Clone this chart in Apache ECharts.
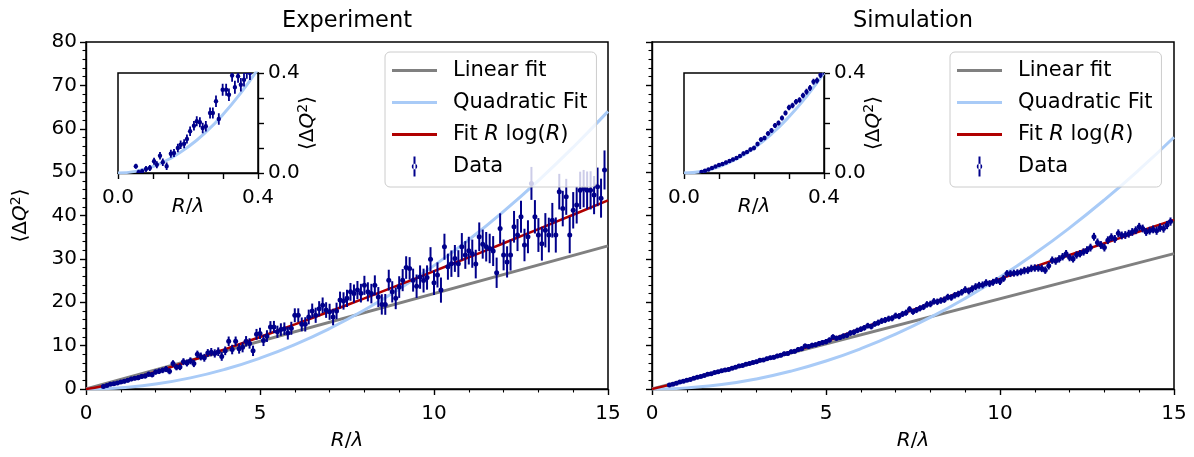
<!DOCTYPE html>
<html>

<head>
  <meta charset="utf-8">
  <title>Experiment / Simulation</title>
  <script src="https://cdn.jsdelivr.net/npm/echarts@6/dist/echarts.min.js"></script>
</head>

<body style="margin:0">
  <div id="chart" style="width:1194px;height:457px;"></div>
  <script>
    // sample positions R/lambda shared by both panels
    const rGrid = [
      0.5, 0.6, 0.7, 0.8, 0.9, 1.0, 1.1, 1.2, 1.3, 1.4,
      1.5, 1.6, 1.7, 1.8, 1.9, 2.0, 2.1, 2.2, 2.3, 2.4,
      2.5, 2.6, 2.7, 2.8, 2.9, 3.0, 3.1, 3.2, 3.3, 3.4,
      3.5, 3.6, 3.7, 3.8, 3.9, 4.0, 4.1, 4.2, 4.3, 4.4,
      4.5, 4.6, 4.7, 4.8, 4.9, 5.0, 5.1, 5.2, 5.3, 5.4,
      5.5, 5.6, 5.7, 5.8, 5.9, 6.0, 6.1, 6.2, 6.3, 6.4,
      6.5, 6.6, 6.7, 6.8, 6.9, 7.0, 7.1, 7.2, 7.3, 7.4,
      7.5, 7.6, 7.7, 7.8, 7.9, 8.0, 8.1, 8.2, 8.3, 8.4,
      8.5, 8.6, 8.7, 8.8, 8.9, 9.0, 9.1, 9.2, 9.3, 9.4,
      9.5, 9.6, 9.7, 9.8, 9.9, 10.0, 10.1, 10.2, 10.3, 10.4,
      10.5, 10.6, 10.7, 10.8, 10.9, 11.0, 11.1, 11.2, 11.3, 11.4,
      11.5, 11.6, 11.7, 11.8, 11.9, 12.0, 12.1, 12.2, 12.3, 12.4,
      12.5, 12.6, 12.7, 12.8, 12.9, 13.0, 13.1, 13.2, 13.3, 13.4,
      13.5, 13.6, 13.7, 13.8, 13.9, 14.0, 14.1, 14.2, 14.3, 14.4,
      14.5, 14.6, 14.7, 14.8, 14.9
    ];

    const expY = [
      0.6, 0.8, 1.1, 1.2, 1.4, 1.6, 1.8, 2.0, 2.3, 2.5,
      2.6, 2.9, 3.0, 3.4, 3.3, 3.9, 4.1, 4.3, 4.6, 4.1,
      5.9, 5.0, 5.1, 6.3, 6.0, 6.5, 5.9, 8.0, 7.5, 7.2,
      8.3, 8.5, 8.2, 8.6, 7.5, 8.8, 11.0, 9.1, 11.0, 9.3,
      9.6, 11.0, 10.5, 8.8, 12.6, 12.8, 11.2, 12.2, 14.3, 14.3,
      13.2, 13.7, 13.9, 12.9, 14.0, 17.0, 17.0, 14.9, 14.9, 16.6,
      18.0, 17.0, 18.5, 19.3, 18.2, 17.8, 16.6, 18.0, 20.5, 20.3,
      20.9, 22.4, 22.0, 22.8, 22.1, 23.9, 22.4, 22.0, 23.9, 21.2,
      19.5, 19.5, 25.1, 22.4, 20.9, 23.5, 25.1, 28.0, 27.8, 25.1,
      23.7, 25.8, 25.0, 25.7, 29.9, 24.5, 26.3, 22.8, 32.8, 28.2,
      28.9, 30.1, 28.9, 32.8, 30.9, 31.9, 31.2, 28.8, 35.1, 33.4,
      32.8, 32.4, 31.8, 26.8, 37.0, 30.9, 29.3, 30.9, 37.4, 35.5,
      39.7, 33.2, 35.1, 47.4, 39.7, 35.5, 33.5, 36.6, 35.5, 38.9,
      35.5, 45.5, 41.6, 44.3, 35.5, 41.2, 42.4, 45.8, 46.2, 45.8,
      45.8, 44.7, 46.6, 44.0, 50.5
    ];

    const expErr = [
      0.4, 0.4, 0.4, 0.45, 0.45, 0.45, 0.5, 0.5, 0.5, 0.5,
      0.55, 0.55, 0.55, 0.6, 0.6, 0.6, 0.65, 0.65, 0.7, 0.7,
      0.75, 0.7, 0.75, 0.8, 0.8, 0.8, 0.85, 0.85, 0.9, 0.9,
      0.9, 0.95, 0.95, 1.0, 1.0, 1.0, 1.1, 1.1, 1.1, 1.15,
      1.15, 1.2, 1.2, 1.2, 1.25, 1.3, 1.3, 1.35, 1.35, 1.4,
      1.4, 1.45, 1.45, 1.5, 1.5, 1.6, 1.6, 1.6, 1.65, 1.7,
      1.7, 1.75, 1.75, 1.8, 1.8, 1.85, 1.9, 1.9, 1.95, 2.0,
      2.0, 2.05, 2.1, 2.1, 2.15, 2.2, 2.2, 2.25, 2.3, 2.3,
      2.35, 2.4, 2.4, 2.45, 2.5, 2.5, 2.55, 2.6, 2.6, 2.65,
      2.7, 2.7, 2.75, 2.8, 2.8, 2.85, 2.9, 2.9, 3.0, 3.0,
      3.05, 3.1, 3.1, 3.15, 3.2, 3.2, 3.25, 3.3, 3.3, 3.35,
      3.4, 3.4, 3.45, 3.5, 3.5, 3.55, 3.6, 3.6, 3.65, 3.7,
      3.7, 3.75, 3.8, 3.8, 3.85, 3.9, 3.9, 3.95, 4.0, 4.0,
      4.05, 4.1, 4.1, 4.15, 4.2, 4.2, 4.25, 4.3, 4.3, 4.35,
      4.4, 4.4, 4.45, 4.5, 4.5
    ];

    const simY = [
      0.9, 1.1, 1.3, 1.6, 1.8, 2.0, 2.2, 2.5, 2.7, 2.9,
      3.1, 3.4, 3.5, 3.8, 4.0, 4.2, 4.4, 4.5, 4.8, 5.0,
      5.3, 5.4, 5.7, 5.9, 6.1, 6.3, 6.6, 6.7, 7.0, 7.2,
      7.3, 7.6, 7.8, 8.1, 8.2, 8.6, 8.7, 9.1, 9.3, 9.9,
      9.8, 10.1, 10.2, 10.5, 10.7, 10.9, 11.3, 12.0, 11.7, 11.9,
      12.2, 12.4, 12.9, 13.1, 13.5, 13.8, 14.1, 14.6, 14.4, 15.0,
      15.3, 15.7, 15.9, 16.2, 16.3, 16.9, 16.8, 17.3, 17.6, 18.4,
      17.8, 18.2, 18.6, 18.9, 19.5, 19.6, 20.2, 20.1, 20.4, 20.6,
      21.2, 21.1, 21.6, 21.9, 22.3, 22.9, 22.6, 23.1, 23.6, 23.9,
      24.0, 24.5, 24.3, 24.6, 25.0, 24.8, 25.5, 26.6, 26.6, 26.7,
      26.8, 27.0, 27.3, 27.4, 27.8, 27.9, 27.9, 27.8, 27.4, 28.4,
      29.7, 29.5, 30.0, 30.5, 31.2, 30.3, 30.0, 30.9, 31.2, 31.6,
      32.0, 32.6, 35.1, 33.8, 33.2, 32.6, 34.3, 35.0, 34.6, 35.9,
      35.4, 35.5, 35.8, 36.2, 36.6, 37.4, 37.0, 36.2, 36.5, 36.8,
      36.5, 37.2, 37.0, 37.8, 38.6
    ];

    const simErr = [
      0.25, 0.25, 0.25, 0.25, 0.3, 0.3, 0.3, 0.3, 0.3, 0.3,
      0.3, 0.35, 0.35, 0.35, 0.35, 0.35, 0.35, 0.4, 0.4, 0.4,
      0.4, 0.4, 0.4, 0.4, 0.45, 0.45, 0.45, 0.45, 0.45, 0.45,
      0.5, 0.5, 0.5, 0.5, 0.5, 0.5, 0.5, 0.55, 0.55, 0.55,
      0.55, 0.55, 0.55, 0.55, 0.6, 0.6, 0.6, 0.6, 0.6, 0.6,
      0.6, 0.6, 0.65, 0.65, 0.65, 0.65, 0.65, 0.65, 0.65, 0.65,
      0.7, 0.7, 0.7, 0.7, 0.7, 0.7, 0.7, 0.7, 0.7, 0.7,
      0.7, 0.7, 0.7, 0.7, 0.75, 0.75, 0.75, 0.75, 0.75, 0.75,
      0.75, 0.75, 0.75, 0.75, 0.75, 0.8, 0.8, 0.8, 0.8, 0.8,
      0.8, 0.8, 0.8, 0.8, 0.8, 0.8, 0.8, 0.8, 0.8, 0.8,
      0.8, 0.8, 0.85, 0.85, 0.85, 0.85, 0.85, 0.85, 0.85, 0.85,
      0.85, 0.85, 0.85, 0.85, 0.85, 0.85, 0.85, 0.85, 0.85, 0.85,
      0.9, 0.9, 0.9, 0.9, 0.9, 0.9, 0.9, 0.9, 0.9, 0.9,
      0.9, 0.9, 0.9, 0.9, 0.9, 0.9, 0.9, 0.9, 0.9, 0.9,
      0.95, 0.95, 0.95, 0.95, 0.95
    ];

    // fitted curves
    const fitX = [0, 0.5, 1, 2, 3, 4, 5, 6, 7, 8, 9, 10, 11, 12, 13, 14, 15];
    const expLogFit = [0, 0.68, 1.67, 3.96, 6.5, 9.19, 12.0, 14.9, 17.87, 20.9, 24.0, 27.16, 30.36, 33.6, 36.87, 40.17, 43.5];
    const simLogFit = [0, 0.95, 2.0, 4.2, 6.3, 8.6, 11.0, 13.9, 16.8, 19.7, 22.7, 25.4, 28.2, 30.9, 33.6, 36.3, 39.0];
    const expQuadFit = [0, 0.07, 0.28, 1.14, 2.56, 4.55, 7.11, 10.24, 13.94, 18.2, 23.04, 28.44, 34.41, 40.95, 48.06, 55.74, 64.0];
    const simQuadFit = [0, 0.06, 0.26, 1.03, 2.32, 4.13, 6.45, 9.29, 12.64, 16.51, 20.9, 25.8, 31.22, 37.15, 43.6, 50.57, 58.05];
    const linX = [0, 15];
    const expLinFit = [0, 33.0];
    const simLinFit = [0, 31.2];

    // insets (small R/lambda)
    const insetFitX = [0, 0.05, 0.1, 0.15, 0.2, 0.25, 0.3, 0.35, 0.4];
    const insetExpQuad = [0, 0.0065, 0.026, 0.0585, 0.104, 0.1625, 0.234, 0.3185, 0.416];
    const insetSimQuad = [0, 0.006, 0.025, 0.056, 0.1, 0.156, 0.225, 0.306, 0.4];

    const insetExpX = [0.051, 0.059, 0.069, 0.08, 0.091, 0.103, 0.111, 0.12, 0.128, 0.139,
      0.151, 0.16, 0.171, 0.179, 0.189, 0.197, 0.206, 0.217, 0.225, 0.234,
      0.242, 0.251, 0.263, 0.271, 0.28, 0.288, 0.299, 0.309, 0.317, 0.326,
      0.334, 0.343, 0.351, 0.36, 0.368, 0.377];
    const insetExpY = [0.027, 0.003, 0.007, 0.016, 0.02, 0.047, 0.033, 0.069, 0.043, 0.027,
      0.077, 0.08, 0.1, 0.113, 0.117, 0.136, 0.167, 0.189, 0.207, 0.203,
      0.18, 0.187, 0.24, 0.24, 0.287, 0.216, 0.333, 0.333, 0.313, 0.39,
      0.343, 0.387, 0.353, 0.373, 0.405, 0.4];
    const insetExpErr = [0.01, 0.01, 0.01, 0.012, 0.012, 0.014, 0.014, 0.015, 0.015, 0.015,
      0.016, 0.016, 0.017, 0.017, 0.018, 0.018, 0.019, 0.019, 0.02, 0.02,
      0.021, 0.021, 0.022, 0.022, 0.023, 0.023, 0.024, 0.024, 0.025, 0.025,
      0.026, 0.026, 0.027, 0.027, 0.028, 0.028];

    const insetSimX = [0.05, 0.06, 0.07, 0.08, 0.09, 0.10, 0.11, 0.12, 0.13, 0.14,
      0.15, 0.16, 0.17, 0.18, 0.19, 0.20, 0.21, 0.22, 0.23, 0.24,
      0.25, 0.26, 0.27, 0.28, 0.29, 0.30, 0.31, 0.32, 0.33, 0.34,
      0.35, 0.36, 0.37, 0.38, 0.39, 0.40];
    const insetSimY = [0.004, 0.009, 0.014, 0.02, 0.026, 0.032, 0.036, 0.042, 0.048, 0.054,
      0.06, 0.068, 0.078, 0.084, 0.094, 0.1, 0.116, 0.134, 0.14, 0.158,
      0.17, 0.19, 0.2, 0.22, 0.24, 0.262, 0.27, 0.285, 0.292, 0.31,
      0.325, 0.34, 0.365, 0.37, 0.392, 0.405];
    const insetSimErr = [0.006, 0.006, 0.006, 0.006, 0.006, 0.007, 0.007, 0.007, 0.007, 0.007,
      0.008, 0.008, 0.008, 0.008, 0.008, 0.009, 0.009, 0.009, 0.009, 0.009,
      0.01, 0.01, 0.01, 0.01, 0.01, 0.011, 0.011, 0.011, 0.011, 0.011,
      0.012, 0.012, 0.012, 0.012, 0.012, 0.012];

    const FONT = 'DejaVu Sans';
    const BLACK = '#000000';
    const NAVY = '#00008b';
    const GRAY = '#808080';
    const LIGHTBLUE = '#a9cbf7';
    const DARKRED = '#b00000';
    const TICK_FS = 20;

    const zip = (xs, ys) => xs.map((x, i) => [x, ys[i]]);
    const zip3 = (xs, ys, es) => xs.map((x, i) => [x, ys[i], es[i]]);

    const mathRich = {
      n: { fontFamily: FONT, fontSize: 20, color: BLACK },
      i: { fontFamily: FONT, fontSize: 20, fontStyle: 'italic', color: BLACK },
      s: { fontFamily: FONT, fontSize: 14, color: BLACK, padding: [0, 0, 9, 0] }
    };
    const legendRich = {
      n: { fontFamily: FONT, fontSize: 21, color: BLACK },
      i: { fontFamily: FONT, fontSize: 21, fontStyle: 'italic', color: BLACK }
    };
    const RLAMBDA = '{i|R}{n|/}{i|λ}';
    const DQ2 = '{n|⟨Δ}{i|Q}{s|2}{n|⟩}';

    function errorBars(lw, r) {
      return function (params, api) {
        const x = api.value(0), y = api.value(1), e = api.value(2);
        const c = api.coord([x, y]);
        const top = api.coord([x, y + e]);
        const bot = api.coord([x, y - e]);
        return {
          type: 'group',
          children: [
            { type: 'line', shape: { x1: c[0], y1: top[1], x2: c[0], y2: bot[1] }, style: { stroke: NAVY, lineWidth: lw } },
            { type: 'circle', shape: { cx: c[0], cy: c[1], r: r }, style: { fill: NAVY } }
          ]
        };
      };
    }

    const tickStyle = { color: BLACK, width: 1.4 };

    function mainX(g) {
      return {
        gridIndex: g, type: 'value', min: 0, max: 15, interval: 5,
        axisLine: { onZero: false, lineStyle: tickStyle },
        axisTick: { length: 6, lineStyle: tickStyle },
        minorTick: { show: true, splitNumber: 5, length: 3.5, lineStyle: { color: BLACK, width: 1.1 } },
        splitLine: { show: false },
        axisLabel: { color: BLACK, fontSize: TICK_FS, fontFamily: FONT, margin: 15 },
        name: RLAMBDA, nameLocation: 'middle', nameGap: 42, nameMoveOverlap: false,
        nameTextStyle: { rich: mathRich }
      };
    }

    function mainY(g, labels) {
      const ax = {
        gridIndex: g, type: 'value', min: 0, max: 80, interval: 10,
        axisLine: { onZero: false, lineStyle: tickStyle },
        axisTick: { length: 6, lineStyle: tickStyle },
        minorTick: { show: true, splitNumber: 5, length: 3.5, lineStyle: { color: BLACK, width: 1.1 } },
        splitLine: { show: false },
        axisLabel: { show: labels, color: BLACK, fontSize: TICK_FS, fontFamily: FONT, margin: 9 }
      };
      if (labels) {
        ax.name = DQ2;
        ax.nameLocation = 'middle';
        ax.nameGap = 54;
        ax.nameMoveOverlap = false;
        ax.nameTextStyle = { rich: mathRich };
      }
      return ax;
    }

    const insetFmt = function (v) {
      if (Math.abs(v) < 1e-9) return '0.0';
      if (Math.abs(v - 0.4) < 1e-9) return '0.4';
      return '';
    };

    function insetX(g) {
      return {
        gridIndex: g, type: 'value', min: 0, max: 0.4, interval: 0.1, z: 6,
        axisLine: { onZero: false, lineStyle: tickStyle },
        axisTick: { length: 6, lineStyle: tickStyle },
        splitLine: { show: false },
        axisLabel: { color: BLACK, fontSize: TICK_FS, fontFamily: FONT, margin: 15, formatter: insetFmt },
        name: RLAMBDA, nameLocation: 'middle', nameGap: 24, nameMoveOverlap: false,
        nameTextStyle: { rich: mathRich }
      };
    }

    function insetY(g) {
      return {
        gridIndex: g, type: 'value', position: 'right', min: 0, max: 0.4, interval: 0.1, z: 6,
        axisLine: { onZero: false, lineStyle: tickStyle },
        axisTick: { length: 6, lineStyle: tickStyle },
        splitLine: { show: false },
        axisLabel: { color: BLACK, fontSize: TICK_FS, fontFamily: FONT, margin: 10, formatter: insetFmt },
        name: DQ2, nameLocation: 'middle', nameGap: 38, nameMoveOverlap: false,
        nameTextStyle: { rich: mathRich }
      };
    }

    const lineIcon = 'path://M0,8.5L45,8.5L45,11.5L0,11.5Z M0,0L0.01,0L0,0.01Z M56,20L55.99,20L56,19.99Z';
    const dataIcon = 'path://M21.5,0L23.5,0L23.5,20L21.5,20Z M19.8,10A2.7,2.7,0,1,0,25.2,10A2.7,2.7,0,1,0,19.8,10Z M0,0L0.01,0L0,0.01Z M56,20L55.99,20L56,19.99Z';

    function legendAt(left) {
      return {
        left: left, top: 52, orient: 'vertical', z: 10,
        padding: [8, 9, 10, 7], itemGap: 11, itemWidth: 56, itemHeight: 20,
        backgroundColor: 'rgba(255,255,255,0.8)', borderColor: '#cccccc', borderWidth: 1, borderRadius: 5,
        selectedMode: false,
        itemStyle: { borderWidth: 0 },
        textStyle: { color: BLACK, fontSize: 21, fontFamily: FONT, rich: legendRich },
        formatter: function (name) {
          if (name === 'Fit R log(R)') return '{n|Fit }{i|R}{n| log(}{i|R}{n|)}';
          return name;
        },
        data: [
          { name: 'Linear fit', icon: lineIcon },
          { name: 'Quadratic Fit', icon: lineIcon },
          { name: 'Fit R log(R)', icon: lineIcon },
          { name: 'Data', icon: dataIcon }
        ]
      };
    }

    function fitLine(name, color, width, xi, data, z) {
      return {
        type: 'line', name: name, xAxisIndex: xi, yAxisIndex: xi, data: data,
        smooth: true, showSymbol: false, symbol: 'none', z: z,
        lineStyle: { color: color, width: width }, itemStyle: { color: color }
      };
    }

    function dataSeries(xi, data, lw, r, z) {
      return {
        type: 'custom', name: 'Data', xAxisIndex: xi, yAxisIndex: xi, data: data,
        encode: { x: 0, y: 1 }, renderItem: errorBars(lw, r), clip: true, z: z,
        itemStyle: { color: NAVY }
      };
    }

    const titleStyle = { fontSize: 22.5, fontWeight: 'normal', fontFamily: FONT, color: BLACK };

    let myChart = echarts.init(document.getElementById('chart'));
    let option = {
      animation: false,
      backgroundColor: '#ffffff',
      title: [
        { text: 'Experiment', left: 347, top: 10, textAlign: 'center', padding: 0, textStyle: titleStyle },
        { text: 'Simulation', left: 913, top: 10, textAlign: 'center', padding: 0, textStyle: titleStyle }
      ],
      legend: [legendAt(385), legendAt(950)],
      grid: [
        { left: 86, top: 42, width: 522, height: 347, show: true, borderColor: BLACK, borderWidth: 1.5 },
        { left: 652, top: 42, width: 522, height: 347, show: true, borderColor: BLACK, borderWidth: 1.5 },
        { left: 118, top: 73, width: 140, height: 100, show: true, borderColor: BLACK, borderWidth: 1.5, backgroundColor: '#ffffff', z: 5 },
        { left: 684, top: 73, width: 140, height: 100, show: true, borderColor: BLACK, borderWidth: 1.5, backgroundColor: '#ffffff', z: 5 }
      ],
      xAxis: [mainX(0), mainX(1), insetX(2), insetX(3)],
      yAxis: [mainY(0, true), mainY(1, false), insetY(2), insetY(3)],
      series: [
        fitLine('Linear fit', GRAY, 3, 0, zip(linX, expLinFit), 2),
        fitLine('Quadratic Fit', LIGHTBLUE, 3, 0, zip(fitX, expQuadFit), 2),
        fitLine('Fit R log(R)', DARKRED, 2.5, 0, zip(fitX, expLogFit), 3),
        dataSeries(0, zip3(rGrid, expY, expErr), 2, 2.5, 4),

        fitLine('Linear fit', GRAY, 3, 1, zip(linX, simLinFit), 2),
        fitLine('Quadratic Fit', LIGHTBLUE, 3, 1, zip(fitX, simQuadFit), 2),
        fitLine('Fit R log(R)', DARKRED, 2.5, 1, zip(fitX, simLogFit), 3),
        dataSeries(1, zip3(rGrid, simY, simErr), 2, 2.5, 4),

        fitLine('Quadratic Fit', LIGHTBLUE, 3, 2, zip(insetFitX, insetExpQuad), 6),
        dataSeries(2, zip3(insetExpX, insetExpY, insetExpErr), 1.8, 2.2, 7),
        fitLine('Quadratic Fit', LIGHTBLUE, 3, 3, zip(insetFitX, insetSimQuad), 6),
        dataSeries(3, zip3(insetSimX, insetSimY, insetSimErr), 1.8, 2.2, 7)
      ]
    };
    myChart.setOption(option);
  </script>

</body>

</html>
